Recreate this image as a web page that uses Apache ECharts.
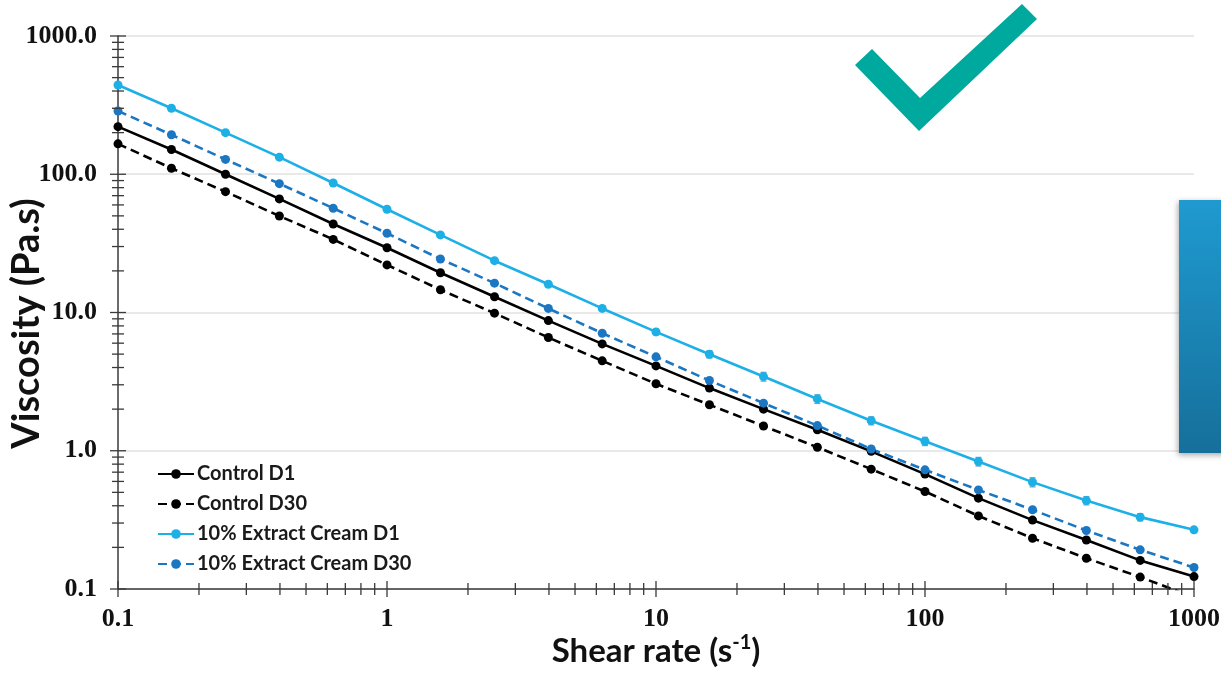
<!DOCTYPE html>
<html>
<head>
<meta charset="utf-8">
<script src="https://cdn.jsdelivr.net/npm/echarts@6/dist/echarts.min.js"></script>
<style>html,body{margin:0;padding:0;background:#fff;}#c{width:1221px;height:678px;}</style>
</head>
<body>
<div id="c"></div>
<script>
// ---- data ----
const shear = [0.1, 0.158, 0.251, 0.398, 0.631, 1, 1.58, 2.51, 3.98, 6.31, 10, 15.8, 25.1, 39.8, 63.1, 100, 158, 251, 398, 631, 1000];
const controlD1 = [221, 151, 100, 66.3, 43.7, 29.4, 19.4, 13.0, 8.74, 5.93, 4.11, 2.84, 2.00, 1.42, 0.99, 0.678, 0.454, 0.315, 0.226, 0.161, 0.123];
const controlD30 = [166, 110.5, 74.8, 49.9, 33.8, 22.1, 14.6, 9.89, 6.59, 4.47, 3.05, 2.15, 1.51, 1.06, 0.736, 0.507, 0.338, 0.233, 0.167, 0.122, 0.087];
const extractD1 = [442, 300, 200, 133, 86.5, 55.8, 36.4, 23.7, 16.0, 10.7, 7.24, 4.99, 3.44, 2.37, 1.65, 1.17, 0.835, 0.593, 0.436, 0.331, 0.268];
const extractD1Err = [0, 0, 0, 0, 0, 0, 0.5, 0.4, 0.3, 0.35, 0.35, 0.3, 0.25, 0.17, 0.11, 0.08, 0.06, 0.045, 0.03, 0.02, 0.012];
const extractD30 = [287, 193, 128, 85.5, 56.8, 37.4, 24.4, 16.3, 10.7, 7.08, 4.78, 3.22, 2.21, 1.52, 1.03, 0.728, 0.521, 0.374, 0.265, 0.192, 0.143];
const seriesNames = ['Control D1', 'Control D30', '10% Extract Cream D1', '10% Extract Cream D30'];
const xTickLabels = ['0.1', '1', '10', '100', '1000'];
const yTickLabels = ['0.1', '1.0', '10.0', '100.0', '1000.0'];
const decades = [0.1, 1, 10, 100, 1000];
const minorMult = [2, 3, 4, 5, 6, 7, 8, 9];

// ---- helpers ----
const pairs = (ys) => shear.map((x, i) => [x, ys[i]]);
const tickData = [];
decades.forEach(d => {
  tickData.push([0.1, d, 0, 1]);
  tickData.push([d, 0.1, 1, 1]);
  if (d < 1000) minorMult.forEach(m => {
    tickData.push([0.1, d * m, 0, 0]);
    tickData.push([d * m, 0.1, 1, 0]);
  });
});
const errData = shear.map((x, i) => [x, extractD1[i] - extractD1Err[i], extractD1[i] + extractD1Err[i]]).filter((d, i) => extractD1Err[i] > 0);

const chart = echarts.init(document.getElementById('c'));
const axisColor = '#3a3a3a';
const labelFont = { fontFamily: 'Liberation Serif', fontWeight: 'bold', fontSize: 26, color: '#111' };
const lineBase = (name, data, color, dashed) => ({
  name, type: 'line', data: pairs(data), symbol: 'circle', symbolSize: 9,
  itemStyle: { color },
  lineStyle: { color, width: 2.6, type: dashed ? [9, 5] : 'solid' },
  clip: true, z: 3
});

chart.setOption({
  backgroundColor: '#fff',
  animation: false,
  grid: { left: 118, right: 27, top: 36, bottom: 89, containLabel: false, outerBoundsMode: 'none' },
  xAxis: {
    type: 'log', logBase: 10, min: 0.1, max: 1000,
    axisLine: { lineStyle: { color: axisColor, width: 1.5 } },
    axisTick: { show: false },
    splitLine: { show: false },
    axisLabel: {
      ...labelFont, margin: 17,
      formatter: v => xTickLabels[Math.round(Math.log10(v)) + 1]
    },
    name: 'Shear rate (s{sup|-1})',
    nameLocation: 'middle', nameGap: 44, nameMoveOverlap: false,
    nameTextStyle: {
      fontFamily: 'Lato', fontWeight: 'bold', fontSize: 33, color: '#111',
      rich: { sup: { fontFamily: 'Lato', fontWeight: 'bold', fontSize: 20, color: '#111', padding: [0, 0, 16, 0] } }
    }
  },
  yAxis: {
    type: 'log', logBase: 10, min: 0.1, max: 1000,
    axisLine: { show: true, lineStyle: { color: axisColor, width: 1.5 } },
    axisTick: { show: false },
    splitLine: { show: true, lineStyle: { color: '#e2e2e2', width: 1.5 } },
    axisLabel: {
      ...labelFont, margin: 21,
      formatter: v => yTickLabels[Math.round(Math.log10(v)) + 1]
    },
    name: 'Viscosity (Pa.s)',
    nameLocation: 'middle', nameGap: 72, nameMoveOverlap: false,
    nameTextStyle: { fontFamily: 'Lato', fontWeight: 'bold', fontSize: 38, color: '#111', padding: [0, 22, 0, 0] }
  },
  legend: {
    data: seriesNames, orient: 'vertical', left: 152, top: 459,
    itemWidth: 36, itemHeight: 12, itemGap: 10,
    textStyle: { fontFamily: 'Lato', fontWeight: 'bold', fontSize: 20, color: '#1a1a1a', padding: [0, 0, 0, -2] }
  },
  series: [
    lineBase(seriesNames[0], controlD1, '#000000', false),
    lineBase(seriesNames[1], controlD30, '#000000', true),
    lineBase(seriesNames[2], extractD1, '#1db0e6', false),
    lineBase(seriesNames[3], extractD30, '#1c77c3', true),
    {
      name: 'err', type: 'custom', data: errData, z: 2, clip: false,
      renderItem: (params, api) => {
        const lo = api.coord([api.value(0), api.value(1)]);
        const hi = api.coord([api.value(0), api.value(2)]);
        const st = { stroke: '#6aa8c8', lineWidth: 1.3 };
        return { type: 'group', children: [
          { type: 'line', shape: { x1: lo[0], y1: lo[1], x2: hi[0], y2: hi[1] }, style: st },
          { type: 'line', shape: { x1: lo[0] - 3, y1: lo[1], x2: lo[0] + 3, y2: lo[1] }, style: st },
          { type: 'line', shape: { x1: hi[0] - 3, y1: hi[1], x2: hi[0] + 3, y2: hi[1] }, style: st }
        ] };
      }
    },
    {
      name: 'ticks', type: 'custom', data: tickData, z: 4, clip: false, silent: true,
      renderItem: (params, api) => {
        const p = api.coord([api.value(0), api.value(1)]);
        const major = api.value(3) === 1;
        const h = major ? 8 : 6;
        const shape = api.value(2) === 0
          ? { x1: p[0] - h, y1: p[1], x2: p[0] + h, y2: p[1] }
          : { x1: p[0], y1: p[1] - h, x2: p[0], y2: p[1] + h };
        return { type: 'line', shape, style: { stroke: axisColor, lineWidth: 1.3 } };
      }
    }
  ],
  graphic: [
    {
      type: 'polygon', z: 10,
      shape: { points: [[855, 65], [872, 49], [920, 98], [1022, 4], [1037, 19], [919, 131]] },
      style: { fill: '#00a99d' }
    },
    {
      type: 'rect', z: 10,
      shape: { x: 1179, y: 200, width: 50, height: 253 },
      style: {
        fill: new echarts.graphic.LinearGradient(0, 0, 0, 1, [
          { offset: 0, color: '#1f9ad0' }, { offset: 1, color: '#166f9a' }
        ]),
        shadowBlur: 6, shadowColor: 'rgba(0,0,0,0.35)', shadowOffsetX: -1, shadowOffsetY: 2
      }
    }
  ]
});
</script>
</body>
</html>
